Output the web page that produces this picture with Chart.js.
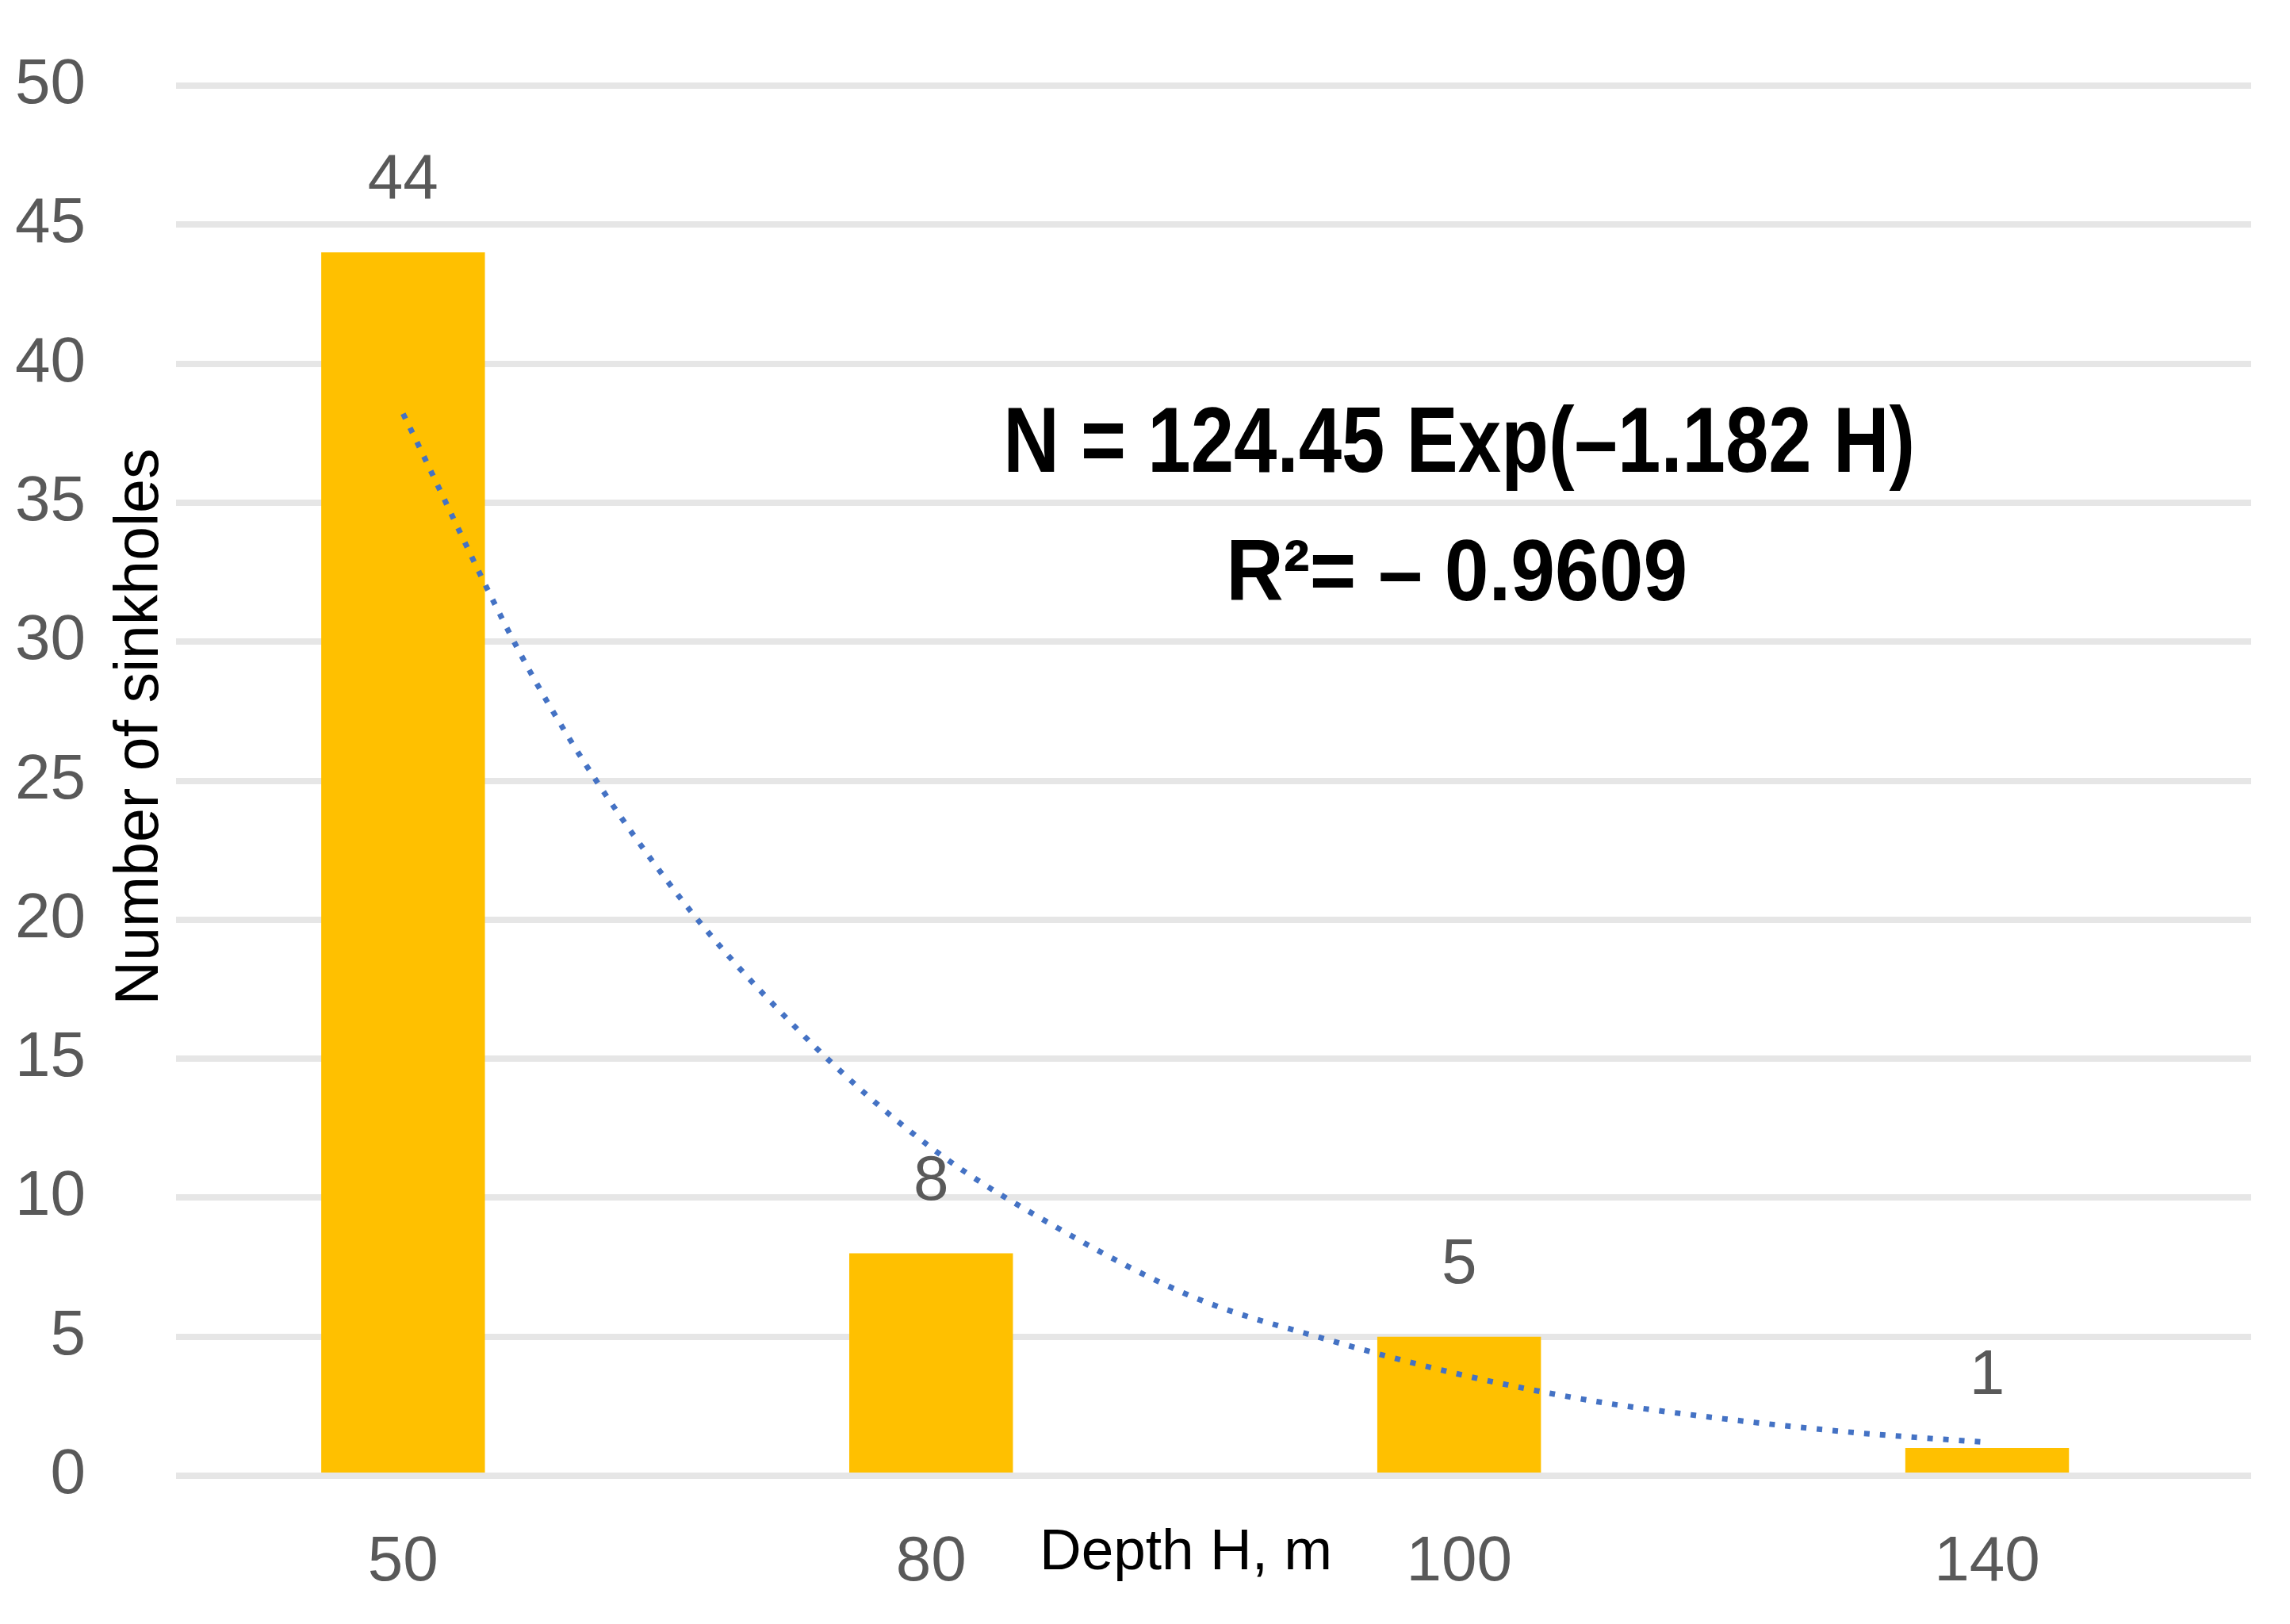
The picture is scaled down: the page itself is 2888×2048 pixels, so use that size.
<!DOCTYPE html>
<html>
<head>
<meta charset="utf-8">
<script src="https://cdn.jsdelivr.net/npm/chart.js@4.4.1/dist/chart.umd.min.js"></script>
<style>
  html, body { margin: 0; padding: 0; background: #ffffff; }
  #wrap { width: 2888px; height: 2048px; position: relative; }
</style>
</head>
<body>
<div id="wrap"><canvas id="c"></canvas></div>
<script>
// ---- data ----
const categories = ['50', '80', '100', '140'];
const sinkholes = [44, 8, 5, 1];
// trendline at quarter-category positions
const trendX = [0, 0.25, 0.5, 0.75, 1, 1.25, 1.5, 1.75, 2, 2.25, 2.5, 2.75, 3];
const trendY = [38.2, 28.6, 21.4, 16.0, 11.8, 8.8, 6.4, 4.9, 3.65, 2.7, 2.05, 1.55, 1.2];
const yMin = 0, yMax = 50, yStep = 5;
const equationLines = ['N = 124.45 Exp(\u20131.182 H)', 'R\u00B2= \u2013 0.9609'];
const xTitle = 'Depth H, m';
const yTitle = 'Number of sinkholes';

const FONT = "'Liberation Sans', Arial, sans-serif";

function drawFitted(ctx, text, cx, baseline, font, targetW) {
  ctx.save();
  ctx.font = font;
  const w = ctx.measureText(text).width;
  const sx = targetW / w;
  ctx.translate(cx, baseline);
  ctx.scale(sx, 1);
  ctx.textAlign = 'center';
  ctx.textBaseline = 'alphabetic';
  ctx.fillText(text, 0, 0);
  ctx.restore();
}

const textPlugin = {
  id: 'texts',
  afterDatasetsDraw(chart) {
    const { ctx, chartArea } = chart;
    const xs = chart.scales.x, ys = chart.scales.y;
    // data labels on bars
    const barIdx = chart.data.datasets.findIndex(d => d.type === 'bar');
    const meta = chart.getDatasetMeta(barIdx);
    ctx.save();
    ctx.fillStyle = '#595959';
    ctx.font = '80px ' + FONT;
    ctx.textAlign = 'center';
    ctx.textBaseline = 'alphabetic';
    meta.data.forEach((el, i) => {
      ctx.fillText(String(sinkholes[i]), el.x, el.y - 68);
    });
    ctx.restore();

    // equation
    ctx.save();
    ctx.fillStyle = '#000000';
    const cx = xs.getPixelForValue(2);
    drawFitted(ctx, equationLines[0], cx, ys.getPixelForValue(36.1), 'bold 116px ' + FONT, 1150);
    drawFitted(ctx, equationLines[1], cx - 3, ys.getPixelForValue(31.5), 'bold 110px ' + FONT, 582);
    ctx.restore();

    // axis titles
    ctx.save();
    ctx.fillStyle = '#000000';
    ctx.font = '73px ' + FONT;
    ctx.textAlign = 'center';
    ctx.textBaseline = 'alphabetic';
    ctx.fillText(xTitle, (chartArea.left + chartArea.right) / 2 - 35, chartArea.bottom + 118);
    ctx.translate(chartArea.left - 23, (chartArea.top + chartArea.bottom) / 2 - 68);
    ctx.rotate(-Math.PI / 2);
    ctx.font = '77px ' + FONT;
    ctx.fillText(yTitle, 0, 0);
    ctx.restore();
  }
};

const ctx = document.getElementById('c').getContext('2d');
new Chart(ctx, {
  data: {
    datasets: [
      {
        type: 'line',
        label: 'Trend',
        data: trendX.map((x, i) => ({ x: x, y: trendY[i] })),
        borderColor: '#4472C4',
        borderWidth: 7,
        borderDash: [7, 13],
        borderCapStyle: 'butt',
        pointRadius: 0,
        fill: false,
        cubicInterpolationMode: 'monotone',
        order: 0
      },
      {
        type: 'bar',
        label: 'Sinkholes',
        data: sinkholes.map((v, i) => ({ x: i, y: v })),
        backgroundColor: '#FFC000',
        borderWidth: 0,
        categoryPercentage: 1.0,
        barPercentage: 0.31,
        order: 1
      }
    ]
  },
  options: {
    responsive: true,
    maintainAspectRatio: false,
    devicePixelRatio: 1,
    animation: false,
    layout: { padding: { left: 0, right: 49, top: 108, bottom: 0 } },
    plugins: {
      legend: { display: false },
      tooltip: { enabled: false },
      title: { display: false }
    },
    scales: {
      x: {
        type: 'linear',
        offset: false,
        min: -0.43,
        max: 3.5,
        afterBuildTicks(scale) {
          scale.ticks = categories.map((c, i) => ({ value: i }));
        },
        afterFit(scale) { scale.height = 187; scale.paddingLeft = 0; scale.paddingRight = 0; },
        grid: { display: false, drawTicks: false, offset: false },
        border: { display: false },
        ticks: {
          autoSkip: false,
          maxRotation: 0,
          padding: 62,
          color: '#595959',
          font: { family: FONT, size: 80 },
          callback: (v) => categories[v] !== undefined ? categories[v] : ''
        }
      },
      y: {
        min: yMin,
        max: yMax,
        afterFit(scale) { scale.width = 222; scale.paddingTop = 0; scale.paddingBottom = 0; },
        grid: { color: '#e6e6e6', lineWidth: 8, drawTicks: false },
        border: { display: false },
        ticks: {
          stepSize: yStep,
          padding: 114,
          color: '#595959',
          font: { family: FONT, size: 80 }
        }
      }
    }
  },
  plugins: [textPlugin]
});
</script>
</body>
</html>
